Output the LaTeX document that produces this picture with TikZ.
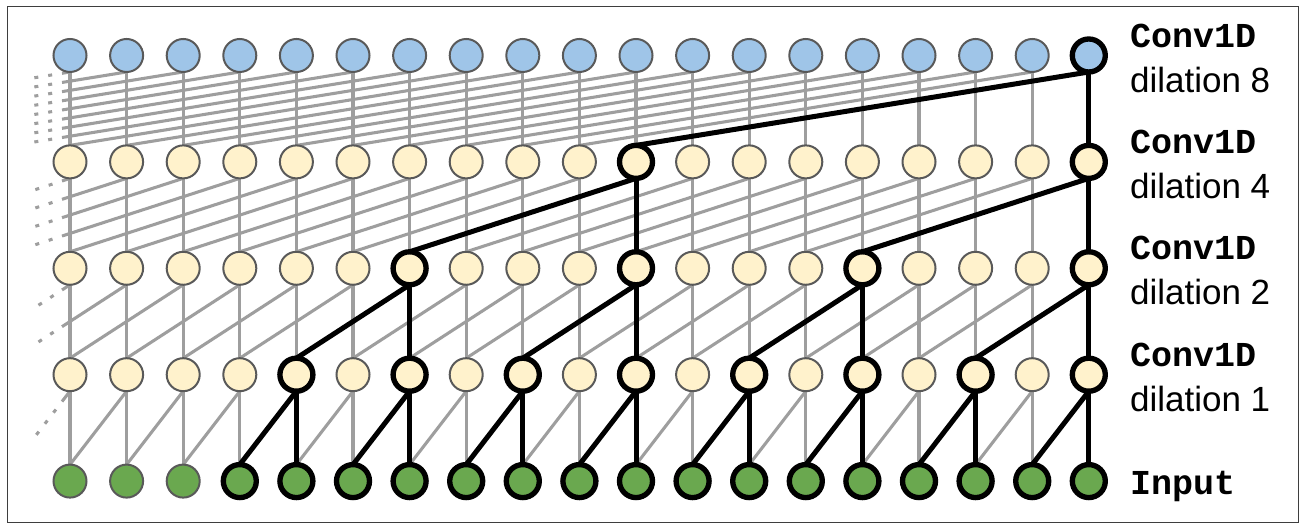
\documentclass[tikz,border=0pt]{standalone}
\usepackage{fontspec}
\setmainfont{Liberation Sans}
\setmonofont{Liberation Mono}
\usetikzlibrary{calc,positioning,backgrounds}
\definecolor{topblue}{HTML}{9FC5E8}
\definecolor{midyellow}{HTML}{FFF2CC}
\definecolor{ingreen}{HTML}{6AA84F}
\definecolor{rimgray}{HTML}{595959}
\definecolor{linkgray}{HTML}{9E9E9E}
\newcommand{\convname}{\texttt{\textbf{Conv1D}}}
\newcommand{\connectunit}[2]{%
  \draw[link] (#1.north) -- (#2.south)}
\newcommand{\connectpath}[2]{%
  \draw[pathlink] (#1.north) -- (#2.south)}

\begin{document}
\begin{tikzpicture}[x=0.75pt, y=0.75pt,
    unit/.style={circle, minimum size=24.75pt, inner sep=0pt, outer sep=0pt},
    link/.style={draw=linkgray, line width=2.3pt},
    stub/.style={dash pattern=on 3pt off 7.5pt, dash phase=3pt},
    pathlink/.style={draw=black, line width=3.75pt},
    tag/.style={font=\fontsize{26.25}{33.75}\selectfont, align=left, inner sep=0pt}]
  \useasboundingbox (0,0) rectangle (1306,530);
  \draw[rimgray!70!black, line width=1pt] (7.7,7.5) rectangle (1298.4,523.7);

  % units: row 0 is the input, row 4 the top convolution
  \foreach \j/\shade in {0/ingreen,1/midyellow,2/midyellow,3/midyellow,4/topblue}
    \foreach \i in {0,...,18} {
      \pgfmathtruncatemacro\gap{18-\i}
      \pgfmathtruncatemacro\hit{and(mod(\gap,pow(2,\j))==0, \gap<=16-pow(2,\j))}
      \ifnum\hit=1 \def\rimcol{black}\def\rimw{4pt}\else\def\rimcol{rimgray}\def\rimw{1.5pt}\fi
      \node[unit, fill=\shade, draw=\rimcol, line width=\rimw] (n\j-\i)
        at ({70+56.6*\i}, {48.9+106.4*\j}) {};
    }

  \begin{scope}[on background layer]
    \foreach \j/\d in {1/1,2/2,3/4,4/8} {
      \pgfmathtruncatemacro\k{\j-1}
      \foreach \i in {0,...,18} {
        \connectunit{n\k-\i}{n\j-\i};
        \pgfmathtruncatemacro\m{\i-\d}
        \ifnum\m<0
          % taps that fall off the left edge
          \pgfmathsetmacro\ta{(8+56.6*\i)/(56.6*\d)}
          \pgfmathsetmacro\tb{(36+56.6*\i)/(56.6*\d)}
          \coordinate (v) at ($(n\k-0.north)+({56.6*\m},0)$);
          \coordinate (e1) at ($(n\j-\i.south)!\ta!(v)$);
          \coordinate (e2) at ($(n\j-\i.south)!\tb!(v)$);
          \draw[link] (n\j-\i.south) -- (e1);
          \draw[link, stub] (e1) -- (e2);
        \else
          \connectunit{n\k-\m}{n\j-\i};
        \fi
      }
    }
    % receptive field of the last output
    \foreach \j/\d/\cols in {1/1/{4,6,...,18},2/2/{6,10,14,18},3/4/{10,18},4/8/{18}} {
      \pgfmathtruncatemacro\k{\j-1}
      \foreach \i in \cols {
        \pgfmathtruncatemacro\m{\i-\d}
        \connectpath{n\k-\i}{n\j-\i};
        \connectpath{n\k-\m}{n\j-\i};
      }
    }
  \end{scope}

  \foreach \j/\d in {1/1,2/2,3/4,4/8}
    \node[tag, right=18.4pt of n\j-18, yshift=-1.9pt] (tag\j) {\convname\\dilation \d};
  \node[tag, right=18.4pt of n0-18, yshift=-3.75pt] (tag0) {\texttt{\textbf{Input}}};
\end{tikzpicture}
\end{document}
